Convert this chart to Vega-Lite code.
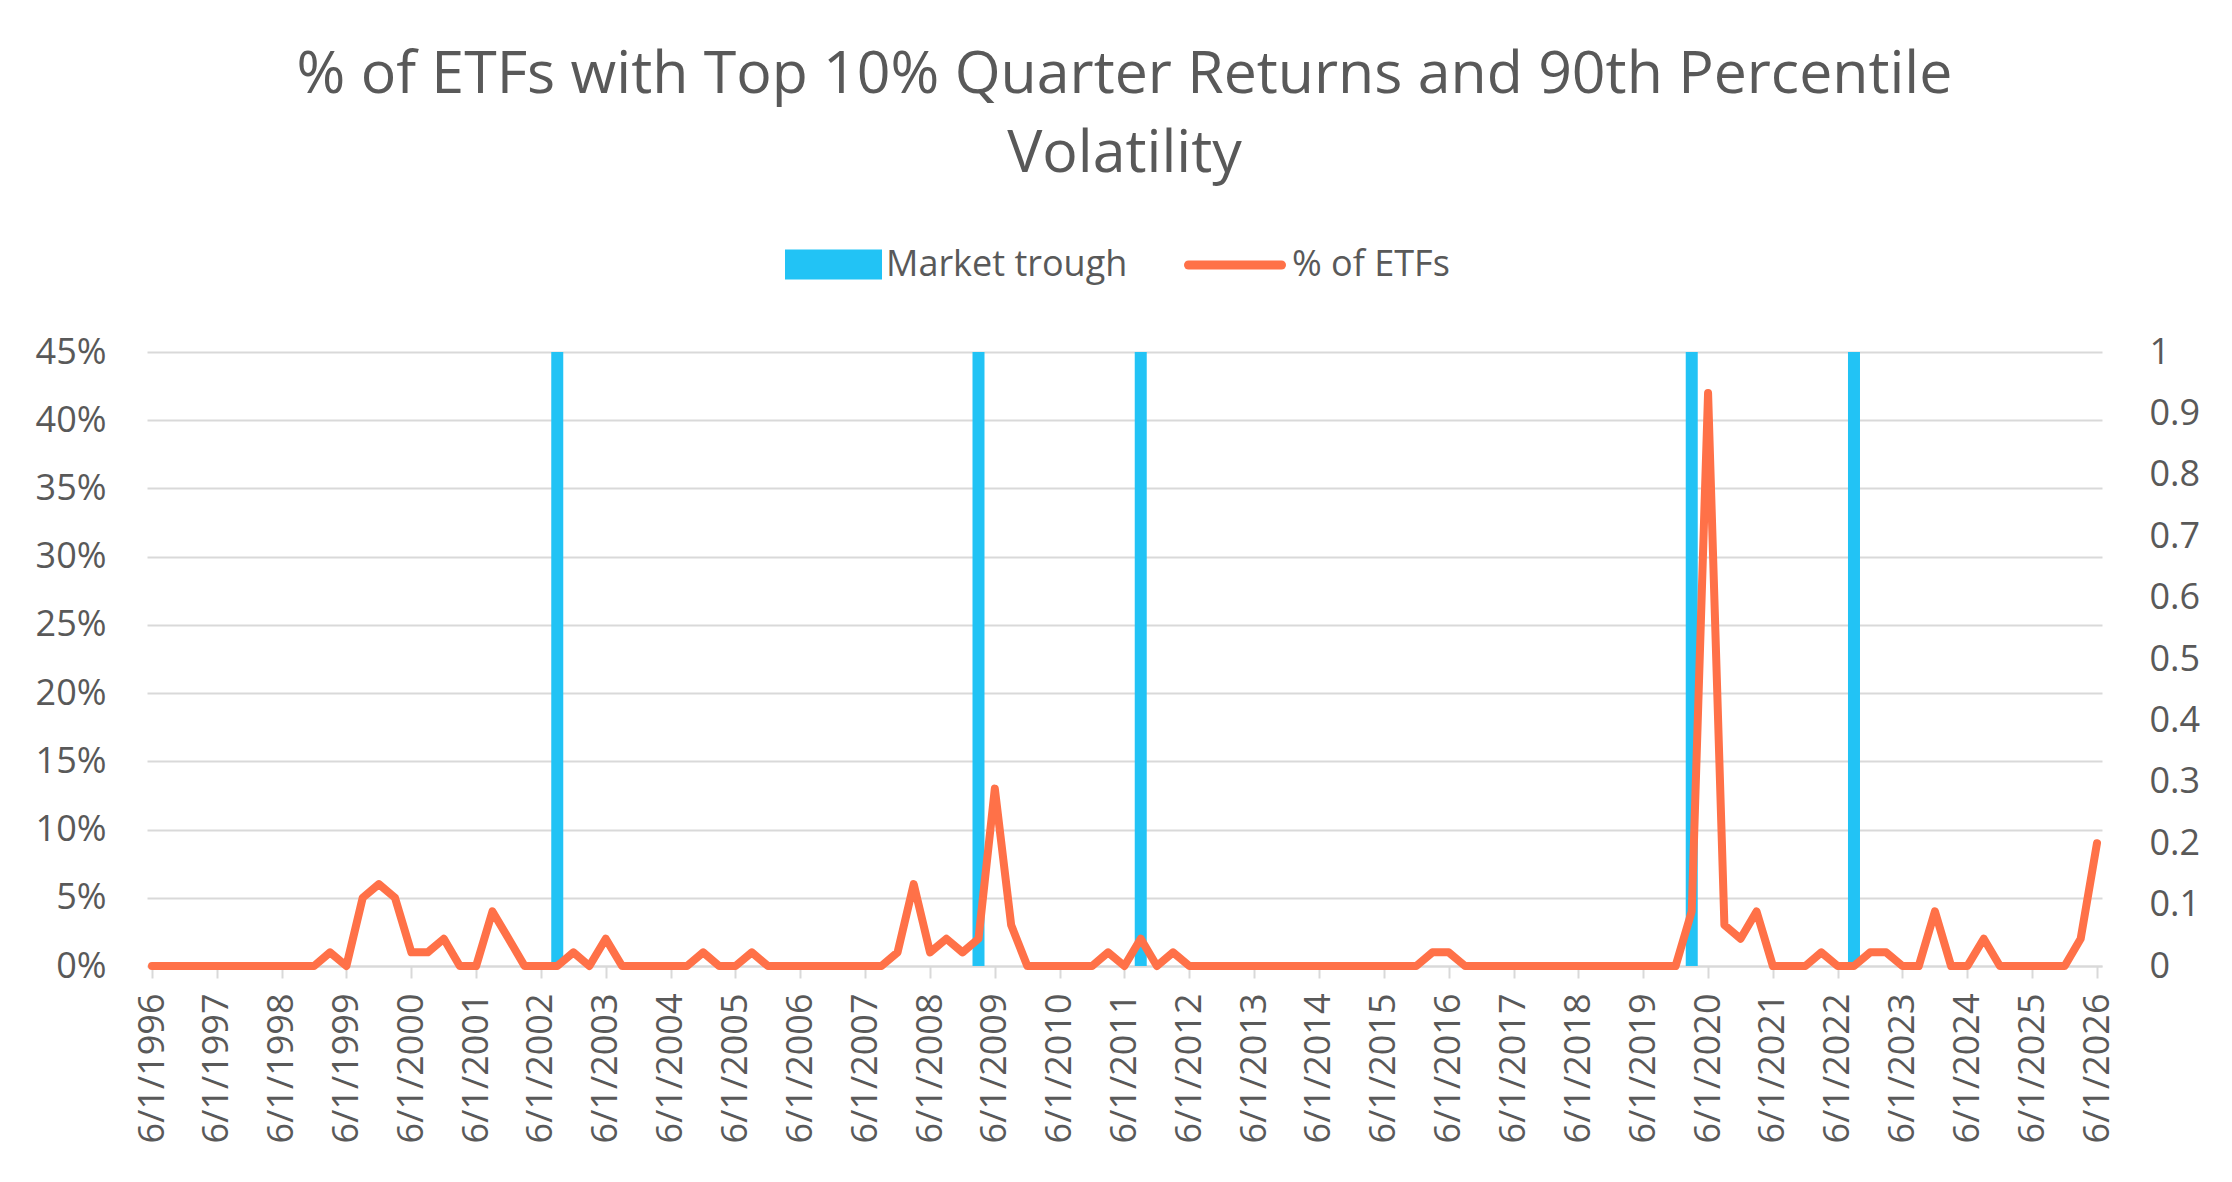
{
  "$schema": "https://vega.github.io/schema/vega-lite/v6.json",
  "width": 1955,
  "height": 614,
  "autosize": "none",
  "padding": {"left": 147, "top": 352, "right": 130, "bottom": 216},
  "background": "white",
  "title": {
    "text": ["% of ETFs with Top 10% Quarter Returns and 90th Percentile", "Volatility"],
    "fontSize": 59,
    "fontWeight": "normal",
    "font": "Open Sans",
    "color": "#595959",
    "lineHeight": 79,
    "offset": 30
  },
  "config": {
    "view": {"stroke": null},
    "axis": {
      "labelFont": "Open Sans",
      "labelColor": "#595959",
      "labelFontSize": 36,
      "gridColor": "#D9D9D9",
      "gridWidth": 2,
      "domainColor": "#D9D9D9",
      "domainWidth": 2,
      "tickColor": "#D9D9D9",
      "tickWidth": 2,
      "title": null
    },
    "legend": {
      "title": null,
      "padding": 0,
      "labelFont": "Open Sans",
      "labelFontSize": 36,
      "labelColor": "#595959",
      "labelLimit": 500
    }
  },
  "datasets": {
    "troughs": [
      {"date": "9/1/2002", "trough": 1},
      {"date": "3/1/2009", "trough": 1},
      {"date": "9/1/2011", "trough": 1},
      {"date": "3/1/2020", "trough": 1},
      {"date": "9/1/2022", "trough": 1}
    ],
    "etfs": [
      {"date": "6/1/1996", "pct": 0}, {"date": "9/1/1996", "pct": 0}, {"date": "12/1/1996", "pct": 0},
      {"date": "3/1/1997", "pct": 0}, {"date": "6/1/1997", "pct": 0}, {"date": "9/1/1997", "pct": 0}, {"date": "12/1/1997", "pct": 0},
      {"date": "3/1/1998", "pct": 0}, {"date": "6/1/1998", "pct": 0}, {"date": "9/1/1998", "pct": 0}, {"date": "12/1/1998", "pct": 0},
      {"date": "3/1/1999", "pct": 0.01}, {"date": "6/1/1999", "pct": 0}, {"date": "9/1/1999", "pct": 0.05}, {"date": "12/1/1999", "pct": 0.06},
      {"date": "3/1/2000", "pct": 0.05}, {"date": "6/1/2000", "pct": 0.01}, {"date": "9/1/2000", "pct": 0.01}, {"date": "12/1/2000", "pct": 0.02},
      {"date": "3/1/2001", "pct": 0}, {"date": "6/1/2001", "pct": 0}, {"date": "9/1/2001", "pct": 0.04}, {"date": "12/1/2001", "pct": 0.02},
      {"date": "3/1/2002", "pct": 0}, {"date": "6/1/2002", "pct": 0}, {"date": "9/1/2002", "pct": 0}, {"date": "12/1/2002", "pct": 0.01},
      {"date": "3/1/2003", "pct": 0}, {"date": "6/1/2003", "pct": 0.02}, {"date": "9/1/2003", "pct": 0}, {"date": "12/1/2003", "pct": 0},
      {"date": "3/1/2004", "pct": 0}, {"date": "6/1/2004", "pct": 0}, {"date": "9/1/2004", "pct": 0}, {"date": "12/1/2004", "pct": 0.01},
      {"date": "3/1/2005", "pct": 0}, {"date": "6/1/2005", "pct": 0}, {"date": "9/1/2005", "pct": 0.01}, {"date": "12/1/2005", "pct": 0},
      {"date": "3/1/2006", "pct": 0}, {"date": "6/1/2006", "pct": 0}, {"date": "9/1/2006", "pct": 0}, {"date": "12/1/2006", "pct": 0},
      {"date": "3/1/2007", "pct": 0}, {"date": "6/1/2007", "pct": 0}, {"date": "9/1/2007", "pct": 0}, {"date": "12/1/2007", "pct": 0.01},
      {"date": "3/1/2008", "pct": 0.06}, {"date": "6/1/2008", "pct": 0.01}, {"date": "9/1/2008", "pct": 0.02}, {"date": "12/1/2008", "pct": 0.01},
      {"date": "3/1/2009", "pct": 0.02}, {"date": "6/1/2009", "pct": 0.13}, {"date": "9/1/2009", "pct": 0.03}, {"date": "12/1/2009", "pct": 0},
      {"date": "3/1/2010", "pct": 0}, {"date": "6/1/2010", "pct": 0}, {"date": "9/1/2010", "pct": 0}, {"date": "12/1/2010", "pct": 0},
      {"date": "3/1/2011", "pct": 0.01}, {"date": "6/1/2011", "pct": 0}, {"date": "9/1/2011", "pct": 0.02}, {"date": "12/1/2011", "pct": 0},
      {"date": "3/1/2012", "pct": 0.01}, {"date": "6/1/2012", "pct": 0}, {"date": "9/1/2012", "pct": 0}, {"date": "12/1/2012", "pct": 0},
      {"date": "3/1/2013", "pct": 0}, {"date": "6/1/2013", "pct": 0}, {"date": "9/1/2013", "pct": 0}, {"date": "12/1/2013", "pct": 0},
      {"date": "3/1/2014", "pct": 0}, {"date": "6/1/2014", "pct": 0}, {"date": "9/1/2014", "pct": 0}, {"date": "12/1/2014", "pct": 0},
      {"date": "3/1/2015", "pct": 0}, {"date": "6/1/2015", "pct": 0}, {"date": "9/1/2015", "pct": 0}, {"date": "12/1/2015", "pct": 0},
      {"date": "3/1/2016", "pct": 0.01}, {"date": "6/1/2016", "pct": 0.01}, {"date": "9/1/2016", "pct": 0}, {"date": "12/1/2016", "pct": 0},
      {"date": "3/1/2017", "pct": 0}, {"date": "6/1/2017", "pct": 0}, {"date": "9/1/2017", "pct": 0}, {"date": "12/1/2017", "pct": 0},
      {"date": "3/1/2018", "pct": 0}, {"date": "6/1/2018", "pct": 0}, {"date": "9/1/2018", "pct": 0}, {"date": "12/1/2018", "pct": 0},
      {"date": "3/1/2019", "pct": 0}, {"date": "6/1/2019", "pct": 0}, {"date": "9/1/2019", "pct": 0}, {"date": "12/1/2019", "pct": 0},
      {"date": "3/1/2020", "pct": 0.04}, {"date": "6/1/2020", "pct": 0.42}, {"date": "9/1/2020", "pct": 0.03}, {"date": "12/1/2020", "pct": 0.02},
      {"date": "3/1/2021", "pct": 0.04}, {"date": "6/1/2021", "pct": 0}, {"date": "9/1/2021", "pct": 0}, {"date": "12/1/2021", "pct": 0},
      {"date": "3/1/2022", "pct": 0.01}, {"date": "6/1/2022", "pct": 0}, {"date": "9/1/2022", "pct": 0}, {"date": "12/1/2022", "pct": 0.01},
      {"date": "3/1/2023", "pct": 0.01}, {"date": "6/1/2023", "pct": 0}, {"date": "9/1/2023", "pct": 0}, {"date": "12/1/2023", "pct": 0.04},
      {"date": "3/1/2024", "pct": 0}, {"date": "6/1/2024", "pct": 0}, {"date": "9/1/2024", "pct": 0.02}, {"date": "12/1/2024", "pct": 0},
      {"date": "3/1/2025", "pct": 0}, {"date": "6/1/2025", "pct": 0}, {"date": "9/1/2025", "pct": 0}, {"date": "12/1/2025", "pct": 0},
      {"date": "3/1/2026", "pct": 0.02}, {"date": "6/1/2026", "pct": 0.09}
    ]
  },
  "layer": [
    {
      "data": {"name": "troughs"},
      "mark": {"type": "bar", "size": 12},
      "encoding": {
        "x": {
          "field": "date",
          "type": "temporal",
          "scale": {
            "domain": [{"year": 1996, "month": 6, "date": 1}, {"year": 2026, "month": 6, "date": 1}],
            "nice": false
          },
          "axis": {
            "values": [
              {"year": 1996, "month": 6, "date": 1}, {"year": 1997, "month": 6, "date": 1},
              {"year": 1998, "month": 6, "date": 1}, {"year": 1999, "month": 6, "date": 1},
              {"year": 2000, "month": 6, "date": 1}, {"year": 2001, "month": 6, "date": 1},
              {"year": 2002, "month": 6, "date": 1}, {"year": 2003, "month": 6, "date": 1},
              {"year": 2004, "month": 6, "date": 1}, {"year": 2005, "month": 6, "date": 1},
              {"year": 2006, "month": 6, "date": 1}, {"year": 2007, "month": 6, "date": 1},
              {"year": 2008, "month": 6, "date": 1}, {"year": 2009, "month": 6, "date": 1},
              {"year": 2010, "month": 6, "date": 1}, {"year": 2011, "month": 6, "date": 1},
              {"year": 2012, "month": 6, "date": 1}, {"year": 2013, "month": 6, "date": 1},
              {"year": 2014, "month": 6, "date": 1}, {"year": 2015, "month": 6, "date": 1},
              {"year": 2016, "month": 6, "date": 1}, {"year": 2017, "month": 6, "date": 1},
              {"year": 2018, "month": 6, "date": 1}, {"year": 2019, "month": 6, "date": 1},
              {"year": 2020, "month": 6, "date": 1}, {"year": 2021, "month": 6, "date": 1},
              {"year": 2022, "month": 6, "date": 1}, {"year": 2023, "month": 6, "date": 1},
              {"year": 2024, "month": 6, "date": 1}, {"year": 2025, "month": 6, "date": 1},
              {"year": 2026, "month": 6, "date": 1}
            ],
            "format": "%-m/%-d/%Y",
            "labelAngle": -90,
            "labelFlush": false,
            "labelOverlap": false,
            "tickSize": 12,
            "labelPadding": 15,
            "grid": false
          }
        },
        "y": {
          "field": "trough",
          "type": "quantitative",
          "scale": {"domain": [0, 1], "nice": false},
          "axis": {
            "orient": "right",
            "values": [0, 0.1, 0.2, 0.3, 0.4, 0.5, 0.6, 0.7, 0.8, 0.9, 1],
            "format": ".1~f",
            "grid": false,
            "ticks": false,
            "domain": false,
            "labelPadding": 47
          }
        },
        "fill": {
          "datum": "Market trough",
          "type": "nominal",
          "scale": {"domain": ["Market trough"], "range": ["#22C3F5"]},
          "legend": {
            "orient": "none",
            "legendX": 638,
            "legendY": -136,
            "labelOffset": 4,
            "symbolSize": 9409,
            "symbolStrokeWidth": 0,
            "symbolOpacity": 1,
            "symbolType": "M-1,-0.31H1V0.31H-1Z"
          }
        }
      }
    },
    {
      "data": {"name": "etfs"},
      "mark": {"type": "line", "strokeWidth": 8, "strokeCap": "round", "strokeJoin": "round"},
      "encoding": {
        "x": {"field": "date", "type": "temporal"},
        "y": {
          "field": "pct",
          "type": "quantitative",
          "scale": {"domain": [0, 0.45], "nice": false},
          "axis": {
            "orient": "left",
            "values": [0, 0.05, 0.1, 0.15, 0.2, 0.25, 0.3, 0.35, 0.4, 0.45],
            "format": ".0%",
            "grid": true,
            "ticks": false,
            "domain": false,
            "labelPadding": 41
          }
        },
        "stroke": {
          "datum": "% of ETFs",
          "type": "nominal",
          "scale": {"domain": ["% of ETFs"], "range": ["#FF7148"]},
          "legend": {
            "orient": "none",
            "legendX": 1037,
            "legendY": -138,
            "labelOffset": 6,
            "symbolSize": 8649,
            "symbolStrokeWidth": 9,
            "symbolOpacity": 1,
            "symbolType": "stroke",
            "encode": {"symbols": {"update": {"strokeCap": {"value": "round"}}}}
          }
        }
      }
    }
  ],
  "resolve": {"scale": {"y": "independent"}}
}
